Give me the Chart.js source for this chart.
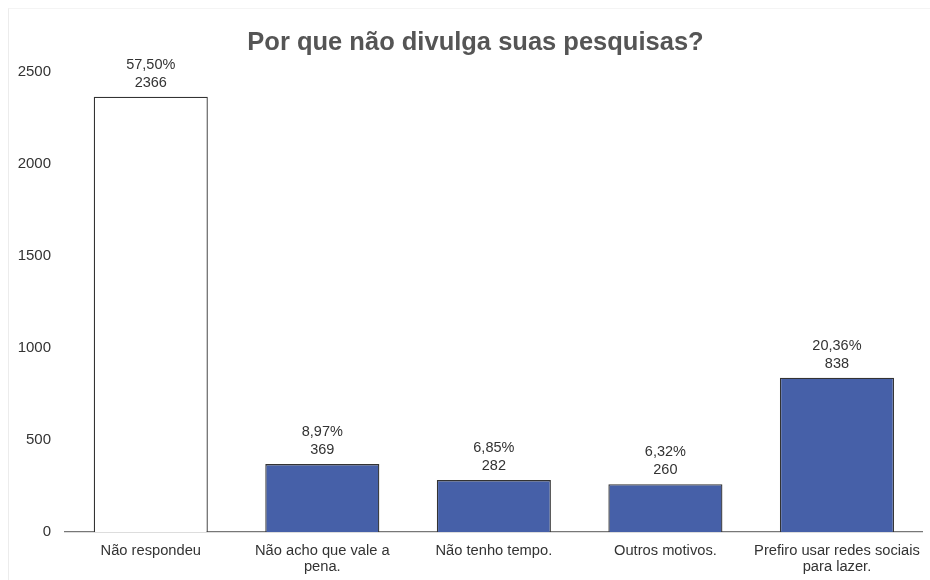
<!DOCTYPE html>
<html>
<head>
<meta charset="utf-8">
<script src="https://cdn.jsdelivr.net/npm/chart.js@4.4.1/dist/chart.umd.min.js"></script>
<style>
  html, body { margin: 0; padding: 0; background: #fff; }
  #wrap { position: relative; width: 930px; height: 580px; }
  #frame { position: absolute; left: 8px; top: 8px; width: 922px; height: 572px;
           border-left: 1px solid #ececec; border-top: 1px solid #f4f4f4; pointer-events: none; }
</style>
</head>
<body>
<div id="wrap">
  <canvas id="myChart" width="930" height="580"></canvas>
  <div id="frame"></div>
</div>
<script>
var categories = [
    "Não respondeu",
    ["Não acho que vale a", "pena."],
    "Não tenho tempo.",
    "Outros motivos.",
    ["Prefiro usar redes sociais", "para lazer."]
];
var respostas = [2366, 369, 282, 260, 838];
var fillColors = ["#ffffff", "#4660a8", "#4660a8", "#4660a8", "#4660a8"];
var yTicks = [0, 500, 1000, 1500, 2000, 2500];
var titulo = "Por que não divulga suas pesquisas?";

var total = respostas.reduce(function (a, b) { return a + b; }, 0);
var FONT = "'Liberation Sans', Arial, sans-serif";

// heading, drawn by hand so it can sit a bit right of the canvas centre
var heading = {
    id: "heading",
    afterDraw: function (chart) {
        var ctx = chart.ctx;
        ctx.save();
        ctx.font = "bold 25.5px " + FONT;
        ctx.fillStyle = "#555";
        ctx.textAlign = "center";
        ctx.textBaseline = "alphabetic";
        ctx.fillText(titulo, 475.5, 49.5);
        ctx.restore();
    }
};

// two-line label over each bar: share of total, then the count
var barLabels = {
    id: "barLabels",
    afterDatasetsDraw: function (chart) {
        var ctx = chart.ctx;
        var meta = chart.getDatasetMeta(0);
        ctx.save();
        ctx.font = "14.5px " + FONT;
        ctx.fillStyle = "#333";
        ctx.textAlign = "center";
        ctx.textBaseline = "alphabetic";
        meta.data.forEach(function (bar, i) {
            var v = respostas[i];
            var pct = (v / total * 100).toFixed(2).replace(".", ",") + "%";
            ctx.fillText(pct, bar.x, bar.y - 28);
            ctx.fillText(String(v), bar.x, bar.y - 10);
        });
        ctx.restore();
    }
};

var ctx = document.getElementById("myChart").getContext("2d");
var chart = new Chart(ctx, {
    type: "bar",
    data: {
        labels: categories,
        datasets: [{
            data: respostas,
            backgroundColor: fillColors,
            borderColor: "#333",
            borderWidth: 1.3,
            barPercentage: 0.665,
            categoryPercentage: 1
        }]
    },
    options: {
        responsive: false,
        animation: false,
        layout: { padding: { left: 12, right: 2, top: 72, bottom: 0 } },
        plugins: {
            legend: { display: false },
            tooltip: { enabled: false },
            title: { display: false }
        },
        scales: {
            x: {
                afterFit: function (axis) { axis.height = 48; },
                grid: { display: false, drawTicks: false },
                border: { display: true, color: "#777", width: 1.3 },
                ticks: {
                    color: "#333",
                    padding: 10,
                    maxRotation: 0,
                    autoSkip: false,
                    font: { family: FONT, size: 14.7, lineHeight: 1.15 }
                }
            },
            y: {
                min: 0,
                max: 2500,
                afterBuildTicks: function (axis) {
                    axis.ticks = yTicks.map(function (v) { return { value: v }; });
                },
                afterFit: function (axis) { axis.width = 53; },
                grid: { display: false, drawTicks: false },
                border: { display: false },
                ticks: {
                    color: "#333",
                    padding: 14,
                    callback: function (v) { return String(v); },
                    font: { family: FONT, size: 15 }
                }
            }
        }
    },
    plugins: [barLabels, heading]
});
</script>
</body>
</html>
